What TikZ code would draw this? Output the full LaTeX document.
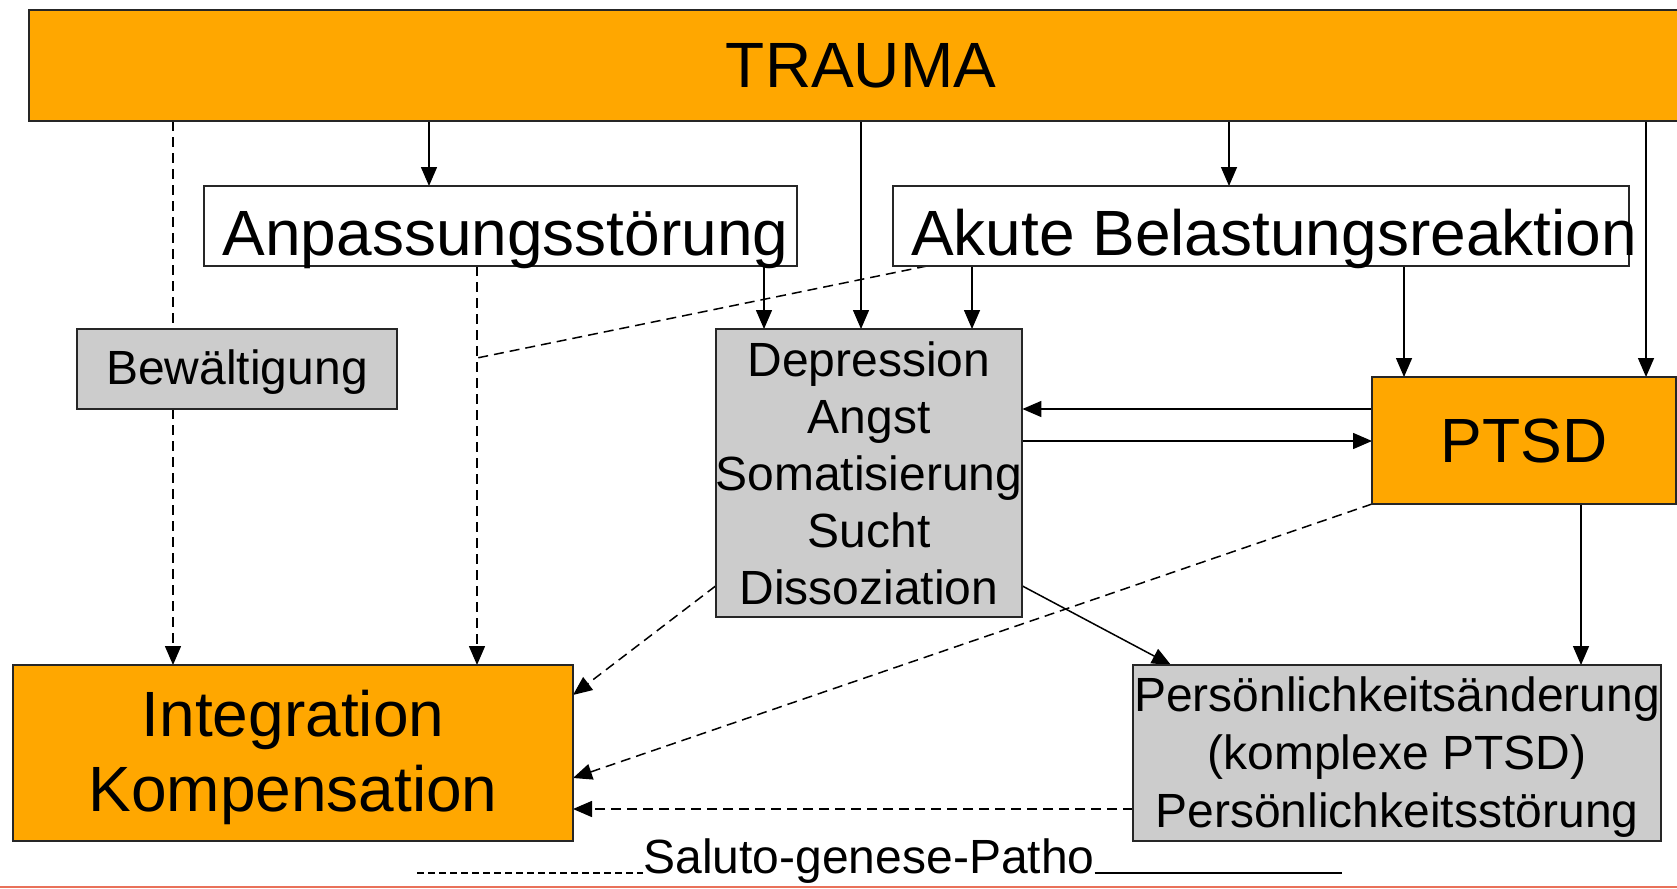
\documentclass[tikz,border=0pt]{standalone}
\usepackage{fontspec}
\setmainfont{Liberation Sans}
\usetikzlibrary{arrows.meta}
\definecolor{orng}{RGB}{255,167,0}
\definecolor{gry}{RGB}{204,204,204}
\definecolor{salmon}{RGB}{233,113,90}
\pgfdeclarelayer{bg}
\pgfsetlayers{bg,main}
\newcommand\fBig{\fontsize{64}{75}\selectfont}
\newcommand\fMid{\fontsize{48}{57}\selectfont}
\newcommand\fPers{\fontsize{48}{58}\selectfont}
\newcommand\fPtsd{\fontsize{62.5}{74}\selectfont}
\tikzset{
  box/.style={draw=black!85, line width=2pt, inner sep=0pt, outer sep=0pt, align=center},
  obox/.style={box, fill=orng},
  gbox/.style={box, fill=gry},
  wbox/.style={box, fill=white},
  conn/.style={line width=1.5pt, -{Triangle[length=19pt,width=16pt]}},
  dconn/.style={conn, dash pattern=on 10pt off 6pt},
  dline/.style={line width=1.5pt, dash pattern=on 10pt off 6pt},
}
\begin{document}
\begin{tikzpicture}[x=1pt, y=-1pt]
\useasboundingbox (0,0) rectangle (1677,888);
\begin{pgfonlayer}{bg}
  \fill[white] (0,0) rectangle (1677,888);
\end{pgfonlayer}
\begin{scope}
\clip (0,0) rectangle (1677,888);
% nodes
\node[obox, minimum width=1664pt, minimum height=111pt, font=\fBig] (trauma) at (861,65.5) {TRAUMA};
\node[wbox, minimum width=593pt, minimum height=80pt, font=\fBig, text height=58pt, text depth=0pt] (anp) at (500.5,226) {\makebox[0pt]{\hspace*{10pt}Anpassungsstörung}};
\node[wbox, minimum width=736pt, minimum height=80pt, font=\fBig, text height=58pt, text depth=0pt] (akute) at (1261,226) {\makebox[0pt]{\hspace*{26pt}Akute Belastungsreaktion}};
\node[gbox, minimum width=320pt, minimum height=80pt, font=\fMid, text height=36pt, text depth=6pt] (bew) at (237,369) {Bewältigung};
\node[gbox, minimum width=304pt, minimum height=288pt, font=\fMid] (dep) at (869,473) {Depression\\Angst\\Somatisierung\\Sucht\\Dissoziation};
\node[obox, minimum width=304pt, minimum height=127pt, font=\fPtsd] (ptsd) at (1524,440.5) {PTSD};
\node[obox, minimum width=560pt, minimum height=176pt, font=\fBig] (integ) at (293,753) {\rule{0pt}{56pt}Integration\\Kompensation};
\node[gbox, minimum width=528pt, minimum height=176pt, font=\fPers] (pers) at (1397,753) {\rule{0pt}{43pt}Persönlichkeitsänderung\\(komplexe PTSD)\\Persönlichkeitsstörung};
\node[font=\fMid, anchor=base, inner sep=0pt] (salu) at (869,873) {Saluto-genese-Patho};
\end{scope}
% helper coordinates
\coordinate (xAnp) at (429,0);
\coordinate (xAk) at (1229,0);
\coordinate (xDep) at (861,0);
\coordinate (xPT) at (1646,0);
\coordinate (xBew) at (173,0);
\coordinate (xAnpD) at (477,0);
\coordinate (xAD) at (764,0);
\coordinate (xAkD) at (972,0);
\coordinate (xAkP) at (1404,0);
\coordinate (xPP) at (1581,0);
\coordinate (yA) at (0,409);
\coordinate (yB) at (0,441);
\coordinate (yP) at (0,809);
\coordinate (jn) at (477,358);
\coordinate (dl) at (417,873);
\coordinate (sr) at (1342,873);
\begin{pgfonlayer}{bg}
  \draw[conn] (trauma.south -| xAnp) -- (anp.north -| xAnp);
  \draw[conn] (trauma.south -| xAk) -- (akute.north -| xAk);
  \draw[conn] (trauma.south -| xDep) -- (dep.north -| xDep);
  \draw[conn] (trauma.south -| xPT) -- (ptsd.north -| xPT);
  \draw[dconn] (trauma.south -| xBew) -- (integ.north -| xBew);
  \draw[dconn] (anp.south -| xAnpD) -- (integ.north -| xAnpD);
  \draw[conn] (anp.south -| xAD) -- (dep.north -| xAD);
  \draw[conn] (akute.south -| xAkD) -- (dep.north -| xAkD);
  \draw[conn] (akute.south -| xAkP) -- (ptsd.north -| xAkP);
  \draw[dline] ([xshift=34pt]akute.south west) -- (jn);
  \draw[conn] (ptsd.west |- yA) -- (dep.east |- yA);
  \draw[conn] (dep.east |- yB) -- (ptsd.west |- yB);
  \draw[dconn] ([yshift=31pt]dep.south west) -- ([yshift=-30pt]integ.north east);
  \draw[dconn] (ptsd.south west) -- ([yshift=-25pt]integ.east);
  \draw[conn] ([yshift=31pt]dep.south east) -- ([xshift=38pt]pers.north west);
  \draw[conn] (ptsd.south -| xPP) -- (pers.north -| xPP);
  \draw[dconn] (pers.west |- yP) -- (integ.east |- yP);
  \draw[line width=1.5pt, dash pattern=on 7pt off 4pt] (dl) -- (salu.base west);
  \draw[line width=1.5pt] (salu.base east) -- (sr);
\end{pgfonlayer}
\draw[salmon, line width=2pt] (0,887) -- (1677,887);
\end{tikzpicture}
\end{document}
